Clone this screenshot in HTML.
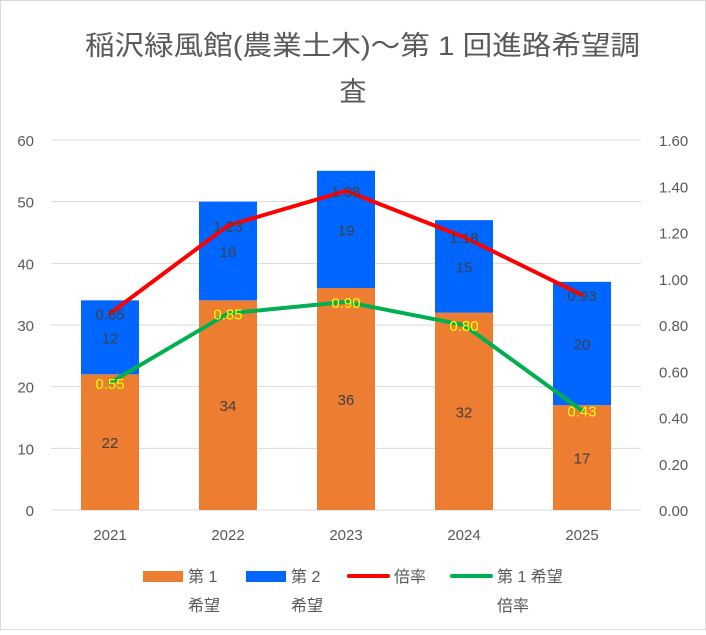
<!DOCTYPE html>
<html><head><meta charset="utf-8">
<style>
body{margin:0;background:#fff;}
svg text{font-family:"Liberation Sans","Noto Sans CJK JP",sans-serif;}
</style></head>
<body>
<svg id="c" width="706" height="630" xmlns="http://www.w3.org/2000/svg">
<rect x="0.5" y="0.5" width="705" height="629" fill="#fff" stroke="#d9d9d9"/>
<text x="85" y="55" font-size="27" fill="#595959" textLength="555" lengthAdjust="spacingAndGlyphs">稲沢緑風館(農業土木)～第 1 回進路希望調</text>
<text x="353" y="101" font-size="27" fill="#595959" text-anchor="middle">査</text>
<g id="grid"></g><g id="bars"></g><g id="lines"></g><g id="labels"></g><g id="axes"></g>
<g>
<rect x="143" y="571" width="40" height="11" fill="#ed7d31"/>
<text x="188" y="582" font-size="16" fill="#595959">第 1</text>
<text x="188" y="611" font-size="16" fill="#595959">希望</text>
<rect x="246" y="571" width="40" height="11" fill="#0066ff"/>
<text x="291" y="582" font-size="16" fill="#595959">第 2</text>
<text x="291" y="611" font-size="16" fill="#595959">希望</text>
<line x1="349" y1="576" x2="388" y2="576" stroke="#ff0000" stroke-width="4" stroke-linecap="round"/>
<text x="394" y="582" font-size="16" fill="#595959">倍率</text>
<line x1="452" y1="576" x2="491" y2="576" stroke="#00b050" stroke-width="4" stroke-linecap="round"/>
<text x="497" y="582" font-size="16" fill="#595959">第 1 希望</text>
<text x="497" y="611" font-size="16" fill="#595959">倍率</text>
</g>
</svg>
<script>
const categories=["2021","2022","2023","2024","2025"];
const firstChoice=[22,34,36,32,17];
const secondChoice=[12,16,19,15,20];
const ratio=[0.85,1.23,1.38,1.18,0.93];
const firstRatio=[0.55,0.85,0.90,0.80,0.43];
const leftTicks=[0,10,20,30,40,50,60];
const rightTicks=[0,0.2,0.4,0.6,0.8,1.0,1.2,1.4,1.6];
const NS="http://www.w3.org/2000/svg";
const y0=510,y1=140,x0=51,x1=641;
const yL=v=>y0-(v/60)*(y0-y1);
const yR=v=>y0-(v/1.6)*(y0-y1);
const xC=i=>x0+(x1-x0)/categories.length*(i+0.5);
function mk(p,t,a){const e=document.createElementNS(NS,t);for(const k in a)e.setAttribute(k,a[k]);p.appendChild(e);return e;}
const grid=document.getElementById('grid'),bars=document.getElementById('bars'),lines=document.getElementById('lines'),labels=document.getElementById('labels'),axes=document.getElementById('axes');
leftTicks.forEach(v=>{
 const l=mk(grid,'line',{x1:x0,x2:x1,y1:yL(v),y2:yL(v),stroke:'#d9d9d9'});
 
 
 const t=mk(axes,'text',{x:34,y:yL(v)+6,'font-size':15,fill:'#595959','text-anchor':'end'});t.textContent=v;
 
 
});
rightTicks.forEach(v=>{
 const t=mk(axes,'text',{x:659,y:yR(v)+6,'font-size':15,fill:'#595959'});t.textContent=v.toFixed(2);
 
 
});
const bw=58;
categories.forEach((c,i)=>{
 const x=xC(i);
 const b1=mk(bars,'rect',{x:x-bw/2,y:yL(firstChoice[i]),width:bw,height:y0-yL(firstChoice[i]),fill:'#ed7d31'});
 
 
 const top=firstChoice[i]+secondChoice[i];
 const b2=mk(bars,'rect',{x:x-bw/2,y:yL(top),width:bw,height:yL(firstChoice[i])-yL(top),fill:'#0066ff'});
 
 
 const t=mk(axes,'text',{x:x,y:540,'font-size':15,fill:'#595959','text-anchor':'middle'});t.textContent=c;
 
 
 const l1=mk(labels,'text',{x:x,y:(yL(firstChoice[i])+y0)/2+6,'font-size':15,fill:'#404040','text-anchor':'middle'});l1.textContent=firstChoice[i];
 
 
 const l2=mk(labels,'text',{x:x,y:(yL(firstChoice[i])+yL(top))/2+6,'font-size':15,fill:'#404040','text-anchor':'middle'});l2.textContent=secondChoice[i];
 
 
});
function line(arr,color,name,lc){
 const p=mk(lines,'polyline',{points:arr.map((v,i)=>xC(i)+','+yR(v)).join(' '),fill:'none',stroke:color,'stroke-width':4,'stroke-linejoin':'round','stroke-linecap':'round'});
 
 
 arr.forEach((v,i)=>{
  const t=mk(labels,'text',{x:xC(i),y:yR(v)+6,'font-size':15,fill:lc,'text-anchor':'middle'});t.textContent=v.toFixed(2);
  
  
 });
}
line(ratio,'#ff0000','line-ratio','#404040');
line(firstRatio,'#00b050','line-first-ratio','#ffff00');
</script>
</body></html>
